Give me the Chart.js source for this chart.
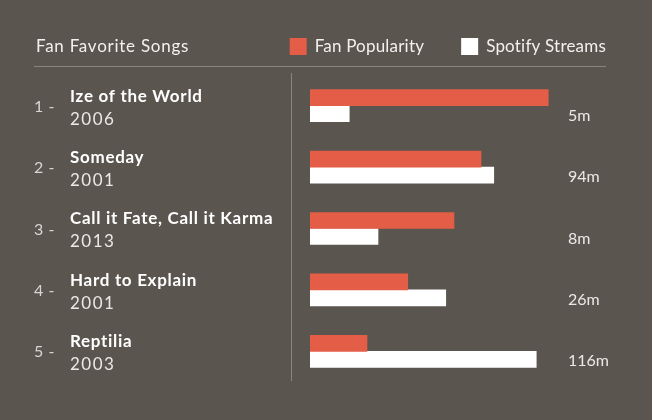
<!DOCTYPE html>
<html>
<head>
<meta charset="utf-8">
<script src="https://cdn.jsdelivr.net/npm/chart.js@4/dist/chart.umd.min.js"></script>
<style>
  html, body { margin: 0; padding: 0; background: #5a554f; }
  #wrap { width: 652px; height: 420px; position: relative; }
</style>
</head>
<body>
<div id="wrap"><canvas id="c"></canvas></div>
<script>
const chartTitle = 'Fan Favorite Songs';
const categories = ['Ize of the World', 'Someday', 'Call it Fate, Call it Karma', 'Hard to Explain', 'Reptilia'];
const ranks = ['1 -', '2 -', '3 -', '4 -', '5 -'];
const years = ['2006', '2001', '2013', '2001', '2003'];
const fanPopularity = [95.3, 68.4, 57.6, 39.1, 22.8];
const spotifyStreams = [15.7, 73.5, 27.2, 54.3, 90.5];
const streamLabels = ['5m', '94m', '8m', '26m', '116m'];

const FONT = 'Lato, "Open Sans", sans-serif';
const RED = '#e35d47';
const WHITE = '#ffffff';

function txt(ctx, s, x, y, font, color, spacing) {
  ctx.font = font;
  ctx.fillStyle = color;
  ctx.letterSpacing = (spacing || 0) + 'px';
  ctx.fillText(s, x, y);
}

const decor = {
  id: 'decor',
  beforeDraw(chart) {
    const ctx = chart.ctx;
    ctx.save();
    ctx.fillStyle = '#5a554f';
    ctx.fillRect(0, 0, chart.width, chart.height);
    ctx.restore();
  },
  afterDraw(chart) {
    const ctx = chart.ctx;
    const area = chart.chartArea;
    const y = chart.scales.y;
    ctx.save();
    ctx.textBaseline = 'middle';
    ctx.textAlign = 'left';
    // title
    txt(ctx, chartTitle, 36, 47, '17px ' + FONT, '#f3f1ee', 0.75);
    // legend (from datasets)
    const ds = chart.data.datasets;
    ctx.font = '17px ' + FONT;
    ctx.letterSpacing = '0.2px';
    let x = 606;
    for (let i = ds.length - 1; i >= 0; i--) {
      const w = ctx.measureText(ds[i].label).width;
      x -= w;
      txt(ctx, ds[i].label, x, 47, '17px ' + FONT, '#f3f1ee', 0.2);
      x -= 8 + 17;
      ctx.fillStyle = ds[i].backgroundColor;
      ctx.fillRect(x, 38, 17, 17);
      x -= 37;
    }
    ctx.letterSpacing = '0px';
    // separators
    ctx.strokeStyle = '#8a857e';
    ctx.lineWidth = 1;
    ctx.beginPath();
    ctx.moveTo(34, 66.5); ctx.lineTo(606, 66.5);
    ctx.moveTo(291.5, area.top - 2); ctx.lineTo(291.5, area.bottom - 1);
    ctx.stroke();
    // row texts
    for (let i = 0; i < categories.length; i++) {
      const c = y.getPixelForValue(i);
      txt(ctx, ranks[i], 34, c + 1, '16px ' + FONT, '#d9d6d2', 0.5);
      txt(ctx, categories[i], 70, c - 9.5, 'bold 17px ' + FONT, '#ffffff', 0.7);
      txt(ctx, years[i], 70, c + 13.5, '17px ' + FONT, '#ebe9e6', 1.5);
      txt(ctx, streamLabels[i], 568, c + 10, '16px ' + FONT, '#ebe9e6', 0);
    }
    ctx.restore();
  }
};

new Chart(document.getElementById('c'), {
  type: 'bar',
  data: {
    labels: categories,
    datasets: [
      { label: 'Fan Popularity', data: fanPopularity, backgroundColor: RED, barThickness: 16, borderWidth: 0 },
      { label: 'Spotify Streams', data: spotifyStreams, backgroundColor: WHITE, barThickness: 16, borderWidth: 0 }
    ]
  },
  options: {
    indexAxis: 'y',
    responsive: true,
    maintainAspectRatio: false,
    animation: false,
    layout: { padding: { left: 310, right: 92, top: 75, bottom: 38 } },
    scales: {
      x: { min: 0, max: 100, display: false },
      y: { display: false }
    },
    plugins: {
      legend: { display: false },
      tooltip: { enabled: false }
    }
  },
  plugins: [decor]
});
</script>
</body>
</html>
